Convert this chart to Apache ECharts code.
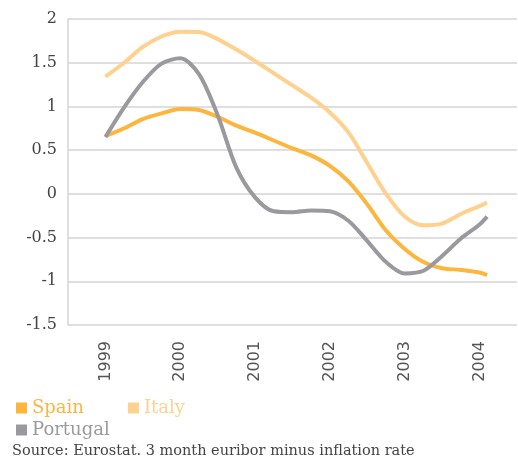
<!DOCTYPE html>
<html>
<head>
<meta charset="utf-8">
<script src="https://cdn.jsdelivr.net/npm/echarts@6/dist/echarts.min.js"></script>
<style>
  html, body { margin: 0; padding: 0; background: #fff; }
  #chart { width: 518px; height: 462px; }
</style>
</head>
<body>
<div id="chart"></div>
<script>
// quarterly observations (decimal years), last one early 2004
var dates = [1999, 1999.25, 1999.5, 1999.75, 2000, 2000.25, 2000.5, 2000.75,
             2001, 2001.25, 2001.5, 2001.75, 2002, 2002.25, 2002.5, 2002.75,
             2003, 2003.25, 2003.5, 2003.75, 2004, 2004.1];
var spain    = [0.66, 0.75, 0.855, 0.92, 0.97, 0.96, 0.88, 0.78, 0.70, 0.61, 0.52, 0.44,
                0.32, 0.14, -0.12, -0.42, -0.63, -0.78, -0.85, -0.87, -0.90, -0.93];
var italy    = [1.34, 1.50, 1.68, 1.80, 1.855, 1.85, 1.77, 1.65, 1.52, 1.38, 1.24, 1.10,
                0.93, 0.70, 0.35, 0.0, -0.26, -0.36, -0.34, -0.23, -0.14, -0.10];
var portugal = [0.65, 0.99, 1.28, 1.49, 1.55, 1.37, 0.90, 0.30, -0.04, -0.20, -0.21, -0.19,
                -0.20, -0.31, -0.54, -0.78, -0.91, -0.88, -0.71, -0.51, -0.35, -0.26];
var yearLabels = [1999, 2000, 2001, 2002, 2003, 2004];
var source = 'Source: Eurostat. 3 month euribor minus inflation rate';

var colors = { Spain: '#fdb53d', Italy: '#ffd18e', Portugal: '#9a9a9e' };

function pairs(vals) {
  return vals.map(function (v, i) { return [dates[i], v]; });
}
function line(name, vals) {
  return {
    name: name, type: 'line', data: pairs(vals), smooth: 0.3,
    symbol: 'none', color: colors[name],
    lineStyle: { width: 4, color: colors[name] }
  };
}
function legendItem(name) {
  return { name: name, textStyle: { color: colors[name] } };
}

var chart = echarts.init(document.getElementById('chart'));
chart.setOption({
  animation: false,
  grid: { left: 68, right: 1, top: 19, bottom: 137 },
  xAxis: {
    type: 'value', min: 1998.5, max: 2004.5,
    axisLine: { show: false },
    axisTick: { show: false },
    splitLine: { show: false },
    axisLabel: {
      customValues: yearLabels, rotate: 90, margin: 16,
      formatter: function (v) { return String(v); },
      fontFamily: 'DejaVu Sans', fontSize: 16, color: '#555'
    }
  },
  yAxis: {
    type: 'value', min: -1.5, max: 2, interval: 0.5,
    axisLine: { show: true, lineStyle: { color: '#d4d4d4', width: 1.5 } },
    axisTick: { show: false },
    splitLine: { lineStyle: { color: '#d4d4d4', width: 1.5 } },
    axisLabel: {
      margin: 11, fontFamily: 'DejaVu Serif', fontSize: 16, color: '#444'
    }
  },
  legend: [
    {
      data: [legendItem('Spain'), legendItem('Italy')],
      left: 11, top: 394, icon: 'rect', itemWidth: 11, itemHeight: 11,
      itemGap: 44, textStyle: { fontFamily: 'DejaVu Serif', fontSize: 18 }
    },
    {
      data: [legendItem('Portugal')],
      left: 11, top: 416, icon: 'rect', itemWidth: 11, itemHeight: 11,
      textStyle: { fontFamily: 'DejaVu Serif', fontSize: 18 }
    }
  ],
  graphic: [{
    type: 'text', left: 12, top: 444,
    style: { text: source, fontFamily: 'DejaVu Serif', fontSize: 14.5, fill: '#444' }
  }],
  series: [line('Spain', spain), line('Italy', italy), line('Portugal', portugal)]
});
</script>
</body>
</html>
